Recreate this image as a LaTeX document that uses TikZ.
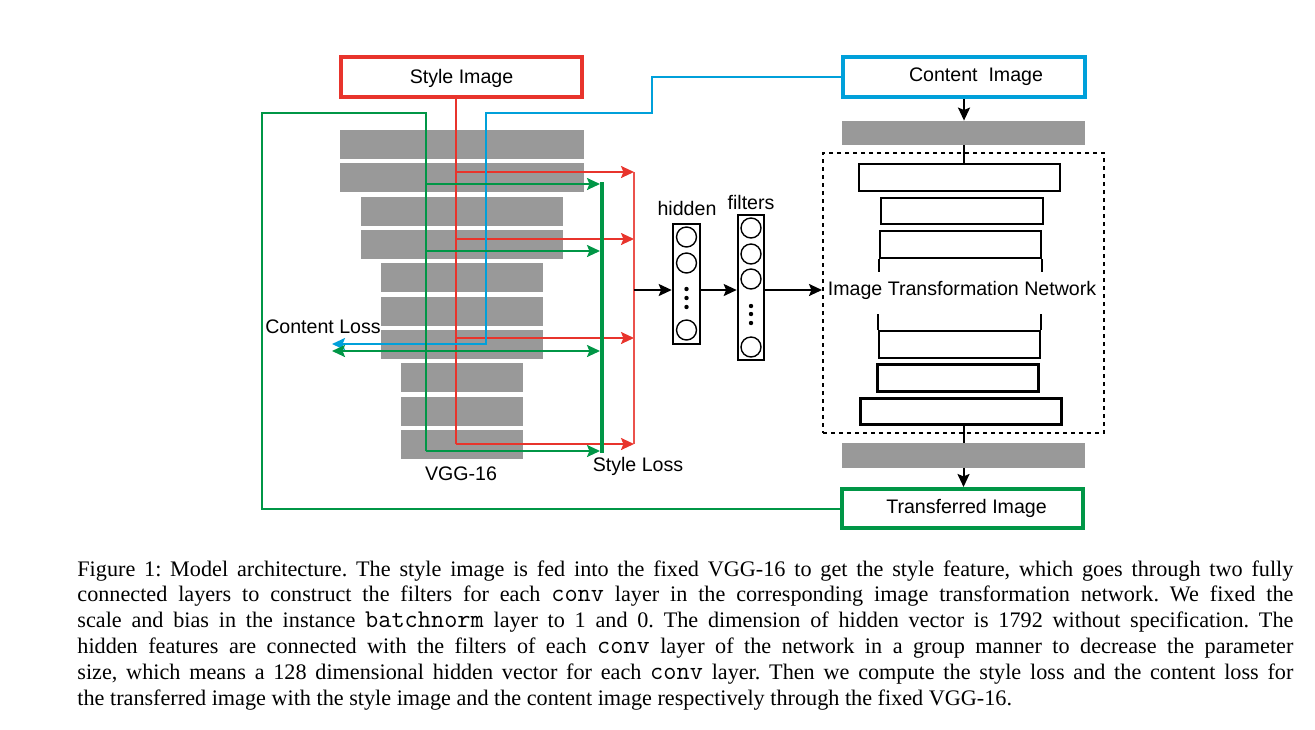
\documentclass[tikz,border=0pt]{standalone}
\usepackage{fontspec}
\setmainfont{Liberation Serif}
\setsansfont{Liberation Sans}
\usetikzlibrary{arrows.meta}

\definecolor{stylered}{RGB}{232,52,44}
\definecolor{contentblue}{RGB}{0,160,218}
\definecolor{transgreen}{RGB}{0,150,70}
\definecolor{bargray}{RGB}{153,153,153}

\newcommand{\codeword}[1]{{\fontsize{12.8}{12.9}\selectfont\ttfamily #1}}

\begin{document}
\begin{tikzpicture}[x=0.5pt,y=-0.5pt,
		font=\sffamily\fontsize{9.8}{11.8}\selectfont,
		imgbox/.style={draw,line width=2pt,fill=white,minimum height=20pt,inner sep=0pt},
		bar/.style={fill=bargray,inner sep=0pt,minimum height=14.5pt},
		layer/.style={draw,line width=1pt,inner sep=0pt,minimum height=13.5pt},
		column/.style={draw,line width=1.3pt,inner sep=0pt},
		neuron/.style={circle,draw,line width=0.7pt,minimum size=10pt,inner sep=0pt},
		dot/.style={circle,fill,minimum size=2.2pt,inner sep=0pt},
		tip/.style={-{Stealth[length=6.5pt,width=6pt,inset=1.2pt]}},
		redline/.style={stylered,line width=1pt},
		blueline/.style={contentblue,line width=1pt},
		greenline/.style={transgreen,line width=1pt},
		blackline/.style={black,line width=1pt}]

		\useasboundingbox (0,0) rectangle (1315,729);

		% VGG-16 layers
		\foreach \i/\w in {0/244,1/244,2/202,3/202,4/162,5/162,6/162,7/122,8/122,9/122}
			\node[bar,minimum width=\w*0.5pt] (vgg\i) at (462,{144.5+33.33*\i}) {};
		\node (vgglabel) at (461,474) {VGG-16};

		% input / output images
		\node[imgbox,draw=stylered,minimum width=120.5pt,text depth=0.6pt] (style) at (461.5,77) {Style Image};
		\node[imgbox,draw=contentblue,minimum width=121pt] (content) at (964,77) {\hspace*{12pt}Content\ \ Image};
		\node[imgbox,draw=transgreen,minimum width=120.5pt,minimum height=19.5pt] (transf) at (962.5,508.5) {\hspace*{4pt}Transferred Image};

		% image transformation network
		\node[bar,minimum width=121.5pt,minimum height=12pt] (ctop) at (963.5,133) {};
		\node[bar,minimum width=121.5pt,minimum height=12.5pt] (cbot) at (963.5,455.5) {};
		\node[draw,dashed,dash pattern=on 2pt off 2pt,line width=1pt,inner sep=0pt,minimum width=140.5pt,minimum height=140pt] (itn) at (963.5,293) {};
		\node (itnlabel) at (962,290) {Image Transformation Network};
		\node[layer,minimum width=100.5pt] (b1) at (959.5,177.5) {};
		\node[layer,minimum width=81pt,minimum height=13pt] (b2) at (962,211) {};
		\node[layer,minimum width=80.5pt] (b3) at (960.5,244.5) {};
		\node[layer,minimum width=80.5pt] (b4) at (959.5,344.5) {};
		\node[layer,line width=1.5pt,minimum width=80.5pt] (b5) at (957.5,377.5) {};
		\node[layer,line width=1.5pt,minimum width=100.5pt,minimum height=13pt] (b6) at (960.5,411) {};
		\draw[blackline] (b3.south west) -- ++(0,13);
		\draw[blackline] (b3.south east) -- ++(0,13);
		\draw[blackline] (b4.north west) -- ++(0,-16);
		\draw[blackline] (b4.north east) -- ++(0,-16);

		\draw[blackline,tip] (content.south) -- (content.south |- ctop.north);
		\draw[blackline] (ctop.south) -- (ctop.south |- b1.north);
		\draw[blackline] (cbot.north) -- (cbot.north |- b6.south);
		\draw[blackline,tip] (cbot.south) -- (cbot.south |- transf.north);

		% hidden and filters
		\node[column,minimum width=13.5pt,minimum height=60pt] (hid) at (686.5,284) {};
		\node[column,minimum width=13pt,minimum height=72.5pt] (fil) at (751,287.5) {};
		\node (hidlabel) at (687,208) {hidden};
		\node (fillabel) at (751,202) {filters};
		\foreach \y [count=\n] in {237,263,330}
			\node[neuron] (h\n) at (686.5,\y) {};
		\foreach \y [count=\n] in {228,254,279,347}
			\node[neuron] (f\n) at (751,\y) {};
		\foreach \y in {289,298,307}
			\node[dot] at (686.5,\y) {};
		\foreach \y in {306,314,323}
			\node[dot] at (751,\y) {};

		% style branch
		\coordinate (rtrunk) at (456,444);
		\coordinate (rcol) at (634,172);
		\coordinate (rbot) at (634,444);
		\coordinate (fcin) at (634,290);
		\draw[redline] (style.south -| rtrunk) -- (rtrunk);
		\foreach \y in {172,239,338,444}
			\draw[redline,tip] (rtrunk |- 0,\y) -- (rcol |- 0,\y);
		\draw[stylered!85,line width=0.8pt] (rcol) -- (rbot);
		\draw[blackline,tip] (fcin) -- (fcin -| hid.west);
		\draw[blackline,tip] (fcin -| hid.east) -- (fcin -| fil.west);
		\draw[blackline,tip] (fcin -| fil.east) -- (fcin -| itn.west);

		% content branch
		\coordinate (closs) at (332,344);
		\draw[blueline,tip] (content.west) -- (652,77) |- (486,113) |- (closs);

		% transferred branch
		\coordinate (gtrunk) at (426,451);
		\coordinate (gin) at (600,184);
		\coordinate (gloss) at (332,351);
		\draw[greenline] (transf.west) -| (262,113) -| (gtrunk);
		\foreach \y in {184,251,351,451}
			\draw[greenline,tip] (gtrunk |- 0,\y) -- (gin |- 0,\y);
		\draw[greenline,tip] (gtrunk |- 0,351) -- (gloss);
		\draw[transgreen,line width=2pt] (602,182) -- (602,453);

		\node (closslabel) at (323,327) {Content Loss};
		\node (slosslabel) at (638,466) {Style Loss};

		% caption
		\node[anchor=north west,inner sep=0pt,text width=608pt,align=justify,
			font=\rmfamily\fontsize{11.1}{12.9}\selectfont\frenchspacing] (caption) at (77,560)
			{Figure 1: Model architecture. The style image is fed into the fixed VGG-16 to get the style feature, which goes through two fully\linebreak
			connected layers to construct the filters for each \codeword{conv} layer in the corresponding image transformation network. We fixed the\linebreak
			scale and bias in the instance \codeword{batchnorm} layer to 1 and 0. The dimension of hidden vector is 1792 without specification. The\linebreak
			hidden features are connected with the filters of each \codeword{conv} layer of the network in a group manner to decrease the parameter\linebreak
			size, which means a 128 dimensional hidden vector for each \codeword{conv} layer. Then we compute the style loss and the content loss for\linebreak
			the transferred image with the style image and the content image respectively through the fixed VGG-16.};
	\end{tikzpicture}
\end{document}
